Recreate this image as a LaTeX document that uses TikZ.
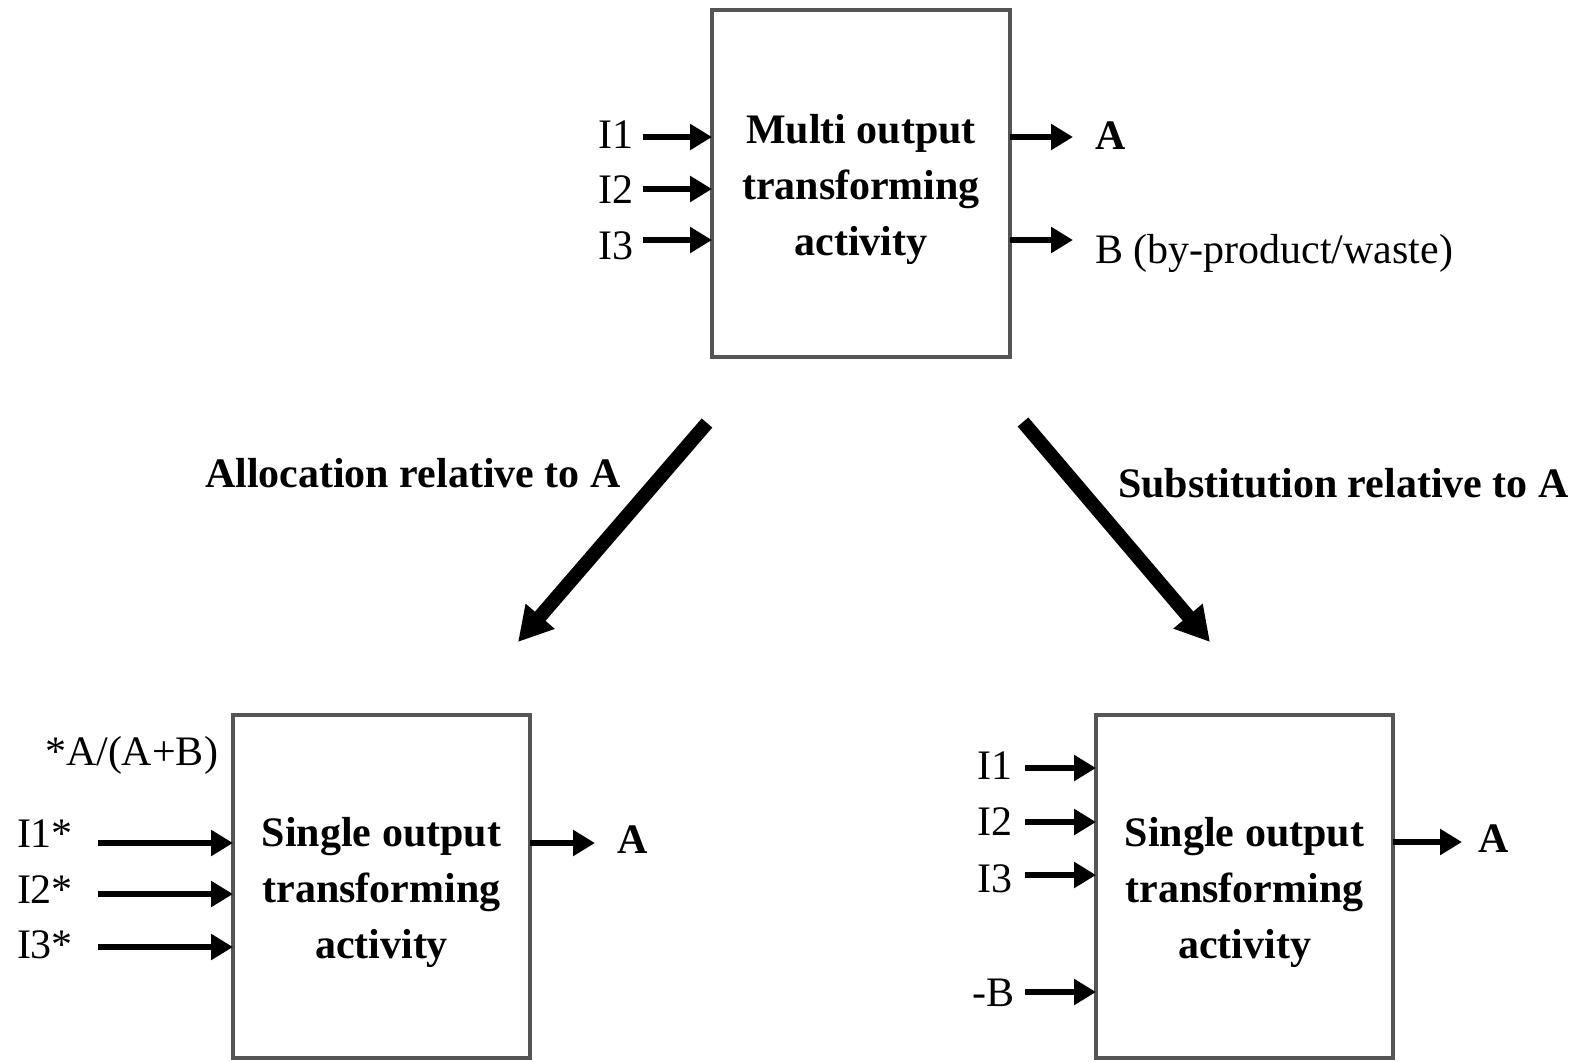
\documentclass[tikz,border=0pt]{standalone}
\usepackage{fontspec}
\setmainfont{Liberation Serif}
\usetikzlibrary{arrows.meta}
\definecolor{boxgray}{RGB}{85,85,85}
\begin{document}
\begin{tikzpicture}[x=1pt,y=-1pt,
  every node/.style={inner sep=0pt, outer sep=0pt},
  lab/.style={font=\fontsize{42}{56}\selectfont, anchor=base west},
  rlab/.style={lab, anchor=base east},
  blab/.style={anchor=base west, font=\fontsize{42}{56}\selectfont\bfseries},
  activity/.style={draw=boxgray, line width=4pt, minimum width=297pt, minimum height=343pt},
  boxtext/.style={align=center, font=\fontsize{42}{56}\selectfont\bfseries},
  flow/.style={line width=6pt, -{Triangle[length=22pt,width=25pt]}},
  route/.style={line width=14pt, -{Triangle[length=34pt,width=36pt]}},
]
\useasboundingbox (0,0) rectangle (1573,1061);

% ---- multi output activity ----
\node[activity, minimum width=298pt, minimum height=347pt] (multi) at (861,183.5) {};
\node[boxtext] (multitxt) at ([yshift=-6pt]multi.center)
  {Multi output\\transforming\\activity};
\node[rlab] (mi1) at (633,148) {I1};
\node[rlab] (mi2) at (633,203) {I2};
\node[rlab] (mi3) at (633,259) {I3};
\coordinate (ma1) at (643,137);
\coordinate (ma2) at (643,189);
\coordinate (ma3) at (643,240);
\foreach \c in {ma1,ma2,ma3} \draw[flow] (\c) -- (\c -| multi.west);
\coordinate (mA) at (1073,137);
\coordinate (mB) at (1073,240);
\draw[flow] (mA -| multi.east) -- (mA);
\draw[flow] (mB -| multi.east) -- (mB);
\node[blab] (moA) at (1095,149) {A};
\node[lab] (moB) at (1095,263) {B (by-product/waste)};

% ---- the two routes ----
\coordinate (r1s) at (707,423);
\coordinate (r1e) at (518,642);
\coordinate (r2s) at (1023,422);
\coordinate (r2e) at (1210,642);
\draw[route] (r1s) -- (r1e);
\draw[route] (r2s) -- (r2e);
\node[blab] (allocl) at (205,487) {Allocation relative to A};
\node[blab] (substl) at (1118,497) {Substitution relative to A};

% ---- allocation result ----
\node[activity] (alloc) at (381.5,886.5) {};
\node[boxtext] (alloctxt) at ([yshift=-6pt]alloc.center)
  {Single output\\transforming\\activity};
\node[lab] (factor) at (45,765) {*A/(A+B)};
\node[lab] (ai1) at (17,847) {I1*};
\node[lab] (ai2) at (17,903) {I2*};
\node[lab] (ai3) at (17,958) {I3*};
\coordinate (aa1) at (98,843);
\coordinate (aa2) at (98,894);
\coordinate (aa3) at (98,947);
\foreach \c in {aa1,aa2,aa3} \draw[flow] (\c) -- (\c -| alloc.west);
\coordinate (aoA) at (595,843);
\draw[flow] (aoA -| alloc.east) -- (aoA);
\node[blab] (aA) at (617,853) {A};

% ---- substitution result ----
\node[activity] (subst) at (1244.5,886.5) {};
\node[boxtext] (substtxt) at ([yshift=-6pt]subst.center)
  {Single output\\transforming\\activity};
\node[lab] (si1) at (977,779) {I1};
\node[lab] (si2) at (977,835) {I2};
\node[lab] (si3) at (977,892) {I3};
\node[lab] (sib) at (972,1006) {-B};
\coordinate (sa1) at (1025,768);
\coordinate (sa2) at (1025,822);
\coordinate (sa3) at (1025,875);
\coordinate (sab) at (1025,992);
\foreach \c in {sa1,sa2,sa3,sab} \draw[flow] (\c) -- (\c -| subst.west);
\coordinate (soA) at (1462,842);
\draw[flow] (soA -| subst.east) -- (soA);
\node[blab] (sA) at (1478,852) {A};
\end{tikzpicture}
\end{document}
